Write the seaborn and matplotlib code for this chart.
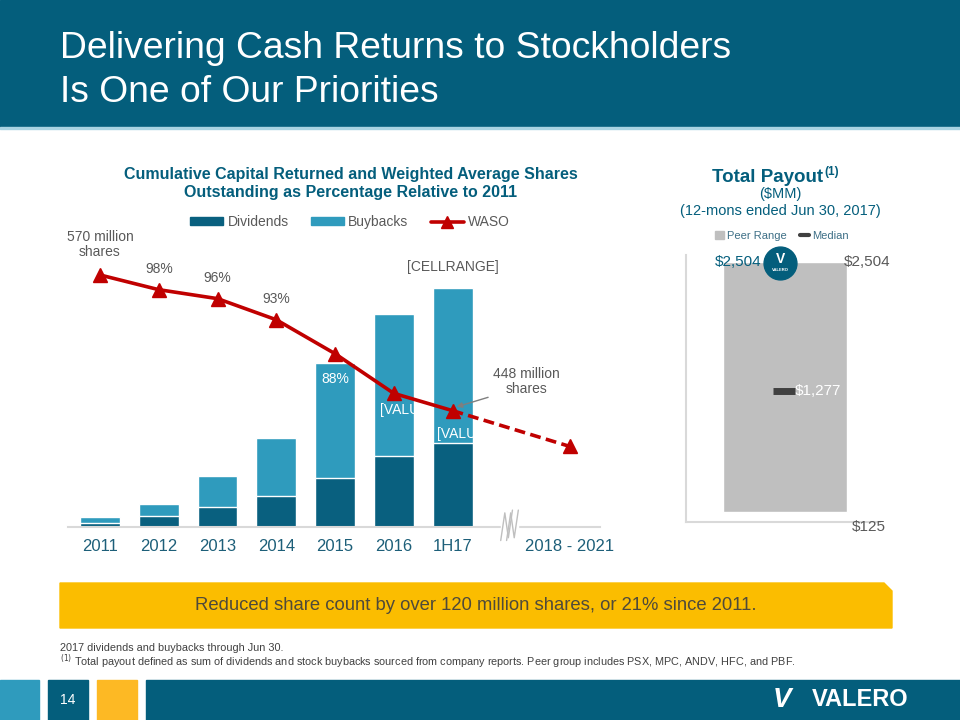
import matplotlib
matplotlib.use("Agg")
import matplotlib.pyplot as plt
import matplotlib.patches as mpatches
import matplotlib.transforms as mtrans
from matplotlib.lines import Line2D
import seaborn as sns
import pandas as pd

# ── Data ────────────────────────────────────────────────
categories = ["2011", "2012", "2013", "2014", "2015", "2016", "1H17", " ", "2018 - 2021"]
bar_years = ["2011", "2012", "2013", "2014", "2015", "2016", "1H17"]
dividends = [0.17, 0.53, 1.00, 1.55, 2.42, 3.55, 4.17]       # cumulative, $B
buybacks = [0.30, 0.60, 1.53, 2.87, 5.75, 7.08, 7.78]        # cumulative, $B
waso_pos = [0, 1, 2, 3, 4, 5, 6, 8]
waso_pct = [100, 97.7, 96.3, 93.0, 87.7, 81.5, 78.8, 73.2]
waso_labels = {1: "98%", 2: "96%", 3: "93%"}

peer_low, peer_high, peer_median = 125, 2504, 1277

# ── Colours ─────────────────────────────────────────────
TEAL = "#045e7c"
DIV_C = "#09607f"
BUY_C = "#2f9bbd"
RED = "#c00000"
GRAY_TXT = "#595959"
YELLOW = "#fbbd00"

sns.set_theme(style="white")
plt.rcParams["font.family"] = ["Liberation Sans", "DejaVu Sans"]

W, H = 960, 720
fig = plt.figure(figsize=(9.6, 7.2), dpi=100)


def fx(x):
    return x / W


def fy(y):
    return 1 - y / H


def rect(x0, y0, x1, y1):
    return [fx(x0), fy(y1), fx(x1) - fx(x0), fy(y0) - fy(y1)]


# ── Slide furniture ─────────────────────────────────────
fig.patches.append(mpatches.Rectangle((0, fy(127)), 1, 127 / H, color=TEAL,
                                      transform=fig.transFigure, zorder=0))
fig.patches.append(mpatches.Rectangle((0, fy(129)), 1, 2 / H, color="#a9d3e2",
                                      transform=fig.transFigure, zorder=0))
fig.text(fx(60), fy(58), "Delivering Cash Returns to Stockholders", color="white",
         fontsize=26.8, va="baseline")
fig.text(fx(60), fy(102), "Is One of Our Priorities", color="white",
         fontsize=26.8, va="baseline")

# footer
for (x0, x1, c) in [(0, 39, "#2f9bbd"), (48, 88, TEAL), (97, 137, "#fdb924"), (146, 960, TEAL)]:
    fig.patches.append(mpatches.Rectangle((fx(x0), 0), fx(x1) - fx(x0), 40 / H, color=c,
                                          transform=fig.transFigure, zorder=0))
fig.text(fx(68), fy(700), "14", color="white", fontsize=10, ha="center", va="center")
fig.text(fx(908), fy(700), "VALERO", color="white", fontsize=17, fontweight="bold",
         ha="right", va="center")
fig.text(fx(782), fy(700), "V", color="white", fontsize=20, fontweight="bold",
         ha="center", va="center", style="italic")

# yellow banner with chamfered corner
banner = mpatches.Polygon([(fx(60), fy(583)), (fx(884), fy(583)), (fx(892), fy(591)),
                           (fx(892), fy(628)), (fx(60), fy(628))], closed=True,
                          color=YELLOW, transform=fig.transFigure, zorder=0)
fig.patches.append(banner)
fig.text(fx(476), fy(606), "Reduced share count by over 120 million shares, or 21% since 2011.",
         color="#4f4a3a", fontsize=13.3, ha="center", va="center")

fig.text(fx(60), fy(648), "2017 dividends and buybacks through Jun 30.", color="#404040",
         fontsize=7.8, va="center")
fig.text(fx(60), fy(662), r"$^{(1)}$" + " Total payout defined as sum of dividends and stock buybacks "
         "sourced from company reports. Peer group includes PSX, MPC, ANDV, HFC, and PBF.",
         color="#404040", fontsize=7.8, va="center")

# ── Left chart: stacked bars + WASO line ────────────────
df = pd.DataFrame({"year": bar_years, "dividends": dividends,
                   "total": [d + b for d, b in zip(dividends, buybacks)]})

ax = fig.add_axes(rect(68, 250, 600, 526.7))
sns.barplot(data=df, x="year", y="total", order=categories, color=BUY_C, saturation=1,
            width=0.68, edgecolor="white", linewidth=1, ax=ax)
sns.barplot(data=df, x="year", y="dividends", order=categories, color=DIV_C, saturation=1,
            width=0.68, edgecolor="white", linewidth=1, ax=ax)
ax.set_xlim(-0.545, 8.51)
ax.set_ylim(0, 13.835)
ax.set_xlabel("")
ax.set_ylabel("")
ax.set_yticks([])
ax.set_xticks(range(len(categories)))
ax.set_xticklabels(categories)
ax.tick_params(axis="x", length=0, pad=9, labelsize=12, labelcolor="#1d5f79")
for s in ["top", "right", "left"]:
    ax.spines[s].set_visible(False)
ax.spines["bottom"].set_color("#d9d9d9")
ax.spines["bottom"].set_linewidth(1.5)

# axis break symbol
bt = mtrans.blended_transform_factory(ax.transData, ax.transAxes)
ax.add_patch(mpatches.Rectangle((6.82, -0.02), 0.3, 0.04, color="white", transform=bt,
                                clip_on=False, zorder=5))
for dx in (-0.05, 0.05):
    ax.plot([6.87 + dx, 6.94 + dx, 7.0 + dx, 7.07 + dx], [-0.05, 0.05, -0.04, 0.06],
            color="#bfbfbf", lw=1, transform=bt, clip_on=False, zorder=6)

ax.annotate("[CELLRANGE]", (6, df["total"].iloc[6]), xytext=(0, 10), textcoords="offset points",
            ha="center", va="bottom", fontsize=10, color=GRAY_TXT)

ax2 = ax.twinx()
ax2.set_ylim(60.67, 103.9)
ax2.set_xlim(-0.545, 8.51)
ax2.axis("off")
ax2.plot(waso_pos[:7], waso_pct[:7], color=RED, lw=2.6, marker="^", ms=10, zorder=4)
ax2.plot(waso_pos[6:], waso_pct[6:], color=RED, lw=2.6, ls=(0, (3, 1.5)), zorder=4)
ax2.plot(waso_pos[7:], waso_pct[7:], color=RED, lw=0, marker="^", ms=10, zorder=4)

ax2.annotate("570 million\nshares", (waso_pos[0], waso_pct[0]), xytext=(0, 22),
             textcoords="offset points", ha="center", va="center", fontsize=10,
             color=GRAY_TXT, linespacing=1.1)
for i, lab in waso_labels.items():
    ax2.annotate(lab, (waso_pos[i], waso_pct[i]), xytext=(0, 15), textcoords="offset points",
                 ha="center", va="center", fontsize=10, color=GRAY_TXT)
ax2.annotate("88%", (waso_pos[4], waso_pct[4]), xytext=(0, -18), textcoords="offset points",
             ha="center", va="center", fontsize=10, color="white")
ax2.annotate("[VALU", (waso_pos[5], waso_pct[5]), xytext=(-10, -12), textcoords="offset points",
             ha="left", va="center", fontsize=10, color="white")
ax2.annotate("[VALU", (waso_pos[6], waso_pct[6]), xytext=(-11, -17), textcoords="offset points",
             ha="left", va="center", fontsize=10, color="white")
ax2.annotate("448 million\nshares", (waso_pos[6] + 0.07, waso_pct[6] + 0.6), xytext=(50, 18),
             textcoords="offset points", ha="center", va="center", fontsize=10,
             color=GRAY_TXT, linespacing=1.1,
             arrowprops=dict(arrowstyle="-|>", color="#7f7f7f", lw=1, mutation_scale=8,
                             shrinkA=1, shrinkB=0, relpos=(0.05, 0.05)))

fig.text(fx(351), fy(175), "Cumulative Capital Returned and Weighted Average Shares",
         ha="center", va="center", fontsize=11.5, fontweight="bold", color=TEAL)
fig.text(fx(351), fy(193), "Outstanding as Percentage Relative to 2011",
         ha="center", va="center", fontsize=11.5, fontweight="bold", color=TEAL)
handles = [mpatches.Patch(color=DIV_C, label="Dividends"),
           mpatches.Patch(color=BUY_C, label="Buybacks"),
           Line2D([], [], color=RED, lw=2.6, marker="^", ms=8, label="WASO")]
fig.legend(handles=handles, loc="center", bbox_to_anchor=(fx(350), fy(222)), ncol=3,
           frameon=False, fontsize=10, labelcolor=GRAY_TXT, handlelength=2.4,
           handleheight=0.5, columnspacing=1.6, handletextpad=0.3)

# ── Right chart: peer range ─────────────────────────────
pdf = pd.DataFrame({"group": ["Peers"], "span": [peer_high - peer_low]})
axr = fig.add_axes(rect(686, 255, 880, 522))
sns.barplot(data=pdf, x="group", y="span", color="#bfbfbf", saturation=1, width=0.8,
            bottom=peer_low, ax=axr)
axr.set_xlim(-0.639, 0.613)
axr.set_ylim(30, 2571)
axr.set_xticks([])
axr.set_yticks([])
axr.set_xlabel("")
axr.set_ylabel("")
for s in ["top", "right"]:
    axr.spines[s].set_visible(False)
for s in ["left", "bottom"]:
    axr.spines[s].set_color("#d9d9d9")
    axr.spines[s].set_linewidth(1.5)
axr.hlines(peer_median, -0.08, 0.065, color="#404040", lw=5, zorder=4)
axr.text(0.065, peer_median, "$1,277", color="white", fontsize=11, ha="left", va="center")
axr.text(-0.15, peer_high, "$2,504", color=TEAL, fontsize=11, ha="right", va="center")
axr.text(0.38, peer_high, "$2,504", color=GRAY_TXT, fontsize=11, ha="left", va="center",
         clip_on=False)
axr.text(0.43, peer_low - 143, "$125", color=GRAY_TXT, fontsize=11, ha="left", va="center",
         clip_on=False)
# Valero badge
axr.scatter([-0.032], [peer_high - 10], s=560, color=TEAL, zorder=5, clip_on=False)
axr.text(-0.032, peer_high + 25, "V", color="white", fontsize=10, fontweight="bold",
         ha="center", va="center", zorder=6)
axr.text(-0.032, peer_high - 80, "VALERO", color="white", fontsize=3, fontweight="bold",
         ha="center", va="center", zorder=6)

fig.text(fx(823), fy(177), "Total Payout", ha="right", va="center",
         fontsize=13.5, fontweight="bold", color=TEAL)
fig.text(fx(824), fy(172), "(1)", ha="left", va="center",
         fontsize=8.5, fontweight="bold", color=TEAL)
fig.text(fx(780), fy(194), "($MM)", ha="center", va="center", fontsize=10.5, color=TEAL)
fig.text(fx(780), fy(211), "(12-mons ended Jun 30, 2017)", ha="center", va="center",
         fontsize=10.5, color=TEAL)
rhandles = [mpatches.Patch(color="#bfbfbf", label="Peer Range"),
            Line2D([], [], color="#404040", lw=3, label="Median")]
fig.legend(handles=rhandles, loc="center", bbox_to_anchor=(fx(782), fy(236)), ncol=2,
           frameon=False, fontsize=8, labelcolor="#3d6f86", handlelength=0.8,
           handleheight=0.8, columnspacing=1.2, handletextpad=0.3)

fig.savefig("out.png", dpi=100)
